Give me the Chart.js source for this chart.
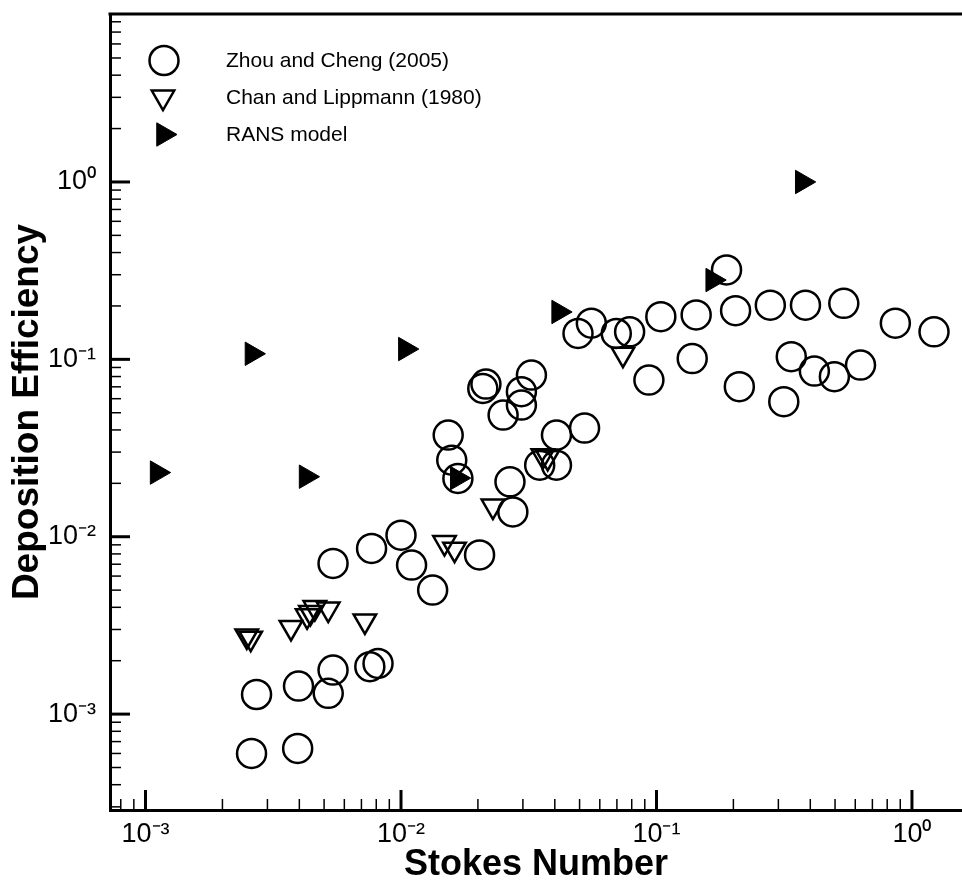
<!DOCTYPE html>
<html>
<head>
<meta charset="utf-8">
<title>Deposition efficiency vs Stokes number</title>
<script src="https://cdn.jsdelivr.net/npm/chart.js@4.4.1/dist/chart.umd.min.js"></script>
<style>
  html, body { margin: 0; padding: 0; background: #fff; overflow: hidden; }
  canvas { display: block; }
</style>
</head>
<body>
<canvas id="chart" width="962" height="883"></canvas>
<script>
// Zhou and Cheng (2005) measurements
const zhouStokes = [
  2.72e-3, 2.60e-3, 3.97e-3, 3.94e-3, 5.42e-3, 5.19e-3, 7.55e-3, 8.13e-3,
  5.42e-3, 7.67e-3, 1.00e-2, 1.10e-2, 1.33e-2, 2.03e-2,
  1.53e-2, 1.58e-2, 1.67e-2, 2.09e-2, 2.15e-2, 3.24e-2, 2.96e-2, 2.96e-2,
  2.51e-2, 2.67e-2, 2.74e-2, 4.06e-2, 3.49e-2, 4.06e-2, 5.23e-2,
  4.93e-2, 5.56e-2, 6.96e-2, 7.85e-2, 0.104, 0.143, 0.138, 9.34e-2,
  0.188, 0.204, 0.279, 0.383, 0.541, 0.861, 1.22,
  0.337, 0.415, 0.497, 0.629, 0.211, 0.315
];
const zhouEff = [
  1.29e-3, 6.0e-4, 1.44e-3, 6.4e-4, 1.77e-3, 1.31e-3, 1.85e-3, 1.93e-3,
  7.07e-3, 8.59e-3, 1.02e-2, 6.92e-3, 5.0e-3, 7.9e-3,
  0.0374, 0.0270, 0.0213, 0.0686, 0.0726, 0.0815, 0.0657, 0.0552,
  0.0485, 0.0204, 0.0138, 0.0374, 0.0253, 0.0253, 0.0410,
  0.140, 0.160, 0.140, 0.143, 0.174, 0.178, 0.101, 0.0764,
  0.319, 0.188, 0.202, 0.202, 0.207, 0.160, 0.143,
  0.1035, 0.0859, 0.0798, 0.0929, 0.0701, 0.0577
];

// Chan and Lippmann (1980)
const chanStokes = [2.49e-3, 2.58e-3, 3.71e-3, 4.29e-3, 4.42e-3, 4.60e-3, 5.19e-3,
  7.22e-3, 1.48e-2, 1.62e-2, 2.29e-2, 3.59e-2, 3.75e-2, 7.39e-2];
const chanEff = [2.76e-3, 2.68e-3, 3.08e-3, 3.58e-3, 3.74e-3, 3.99e-3, 3.91e-3,
  3.35e-3, 9.27e-3, 8.51e-3, 0.0149, 0.0286, 0.0280, 0.107];

// RANS model predictions
const ransStokes = [1.11e-3, 2.61e-3, 4.25e-3, 1.04e-2, 1.66e-2, 4.14e-2, 0.166, 0.372];
const ransEff = [0.0230, 0.1075, 0.0218, 0.1143, 0.0214, 0.185, 0.280, 1.0];

// labelled decades on both axes
const xTicks = [1e-3, 1e-2, 1e-1, 1];
const yTicks = [1e-3, 1e-2, 1e-1, 1];

const FONT = '"Liberation Sans", Arial, Helvetica, sans-serif';
const SUP = { '-': '\u207B', '0': '\u2070', '1': '\u00B9', '2': '\u00B2', '3': '\u00B3',
  '4': '\u2074', '5': '\u2075', '6': '\u2076', '7': '\u2077', '8': '\u2078', '9': '\u2079' };

function powerLabel(v) {
  const e = Math.round(Math.log10(v));
  return '10' + String(e).split('').map(c => SUP[c]).join('');
}

function toPoints(xs, ys) {
  return xs.map((x, i) => ({ x: x, y: ys[i] }));
}

// keep the plot box fixed: no extra room reserved for edge labels
function fixBox(s, size) {
  if (s.isHorizontal()) s.height = size; else s.width = size;
  s.paddingTop = 0;
  s.paddingBottom = 0;
  s.paddingLeft = 0;
  s.paddingRight = 0;
}

// inward major/minor ticks and the top frame line
const logTicks = {
  id: 'logTicks',
  afterDatasetsDraw(chart) {
    const { ctx, chartArea: a, scales } = chart;
    ctx.save();
    ctx.strokeStyle = '#000';
    ctx.lineCap = 'butt';

    const marks = (scale, draw) => {
      const lo = Math.floor(Math.log10(scale.min));
      const hi = Math.ceil(Math.log10(scale.max));
      for (let n = lo; n <= hi; n++) {
        for (let k = 1; k <= 9; k++) {
          const v = k * Math.pow(10, n);
          if (v < scale.min || v > scale.max) continue;
          draw(scale.getPixelForValue(v), k === 1);
        }
      }
    };

    marks(scales.x, (px, major) => {
      ctx.lineWidth = major ? 3 : 1.5;
      ctx.beginPath();
      ctx.moveTo(px, a.bottom);
      ctx.lineTo(px, a.bottom - (major ? 20 : 11));
      ctx.stroke();
    });
    marks(scales.y, (py, major) => {
      ctx.lineWidth = major ? 3 : 1.5;
      ctx.beginPath();
      ctx.moveTo(a.left, py);
      ctx.lineTo(a.left + (major ? 20 : 11), py);
      ctx.stroke();
    });

    ctx.lineWidth = 3;
    ctx.beginPath();
    ctx.moveTo(a.left - 1.5, a.top);
    ctx.lineTo(a.right, a.top);
    ctx.stroke();
    ctx.restore();
  }
};

// legend box in the upper-left corner of the plot
const cornerLegend = {
  id: 'cornerLegend',
  afterDraw(chart) {
    const ctx = chart.ctx;
    ctx.save();
    ctx.strokeStyle = '#000';
    ctx.fillStyle = '#000';

    // circle
    ctx.lineWidth = 2.5;
    ctx.beginPath();
    ctx.arc(164, 60.5, 14.5, 0, Math.PI * 2);
    ctx.stroke();

    // open down triangle
    const r = 13;
    ctx.beginPath();
    for (let i = 0; i < 3; i++) {
      const ang = Math.PI + i * 2 * Math.PI / 3;
      const px = 163 + Math.sin(ang) * r, py = 97 - Math.cos(ang) * r;
      if (i === 0) ctx.moveTo(px, py); else ctx.lineTo(px, py);
    }
    ctx.closePath();
    ctx.stroke();

    // filled right triangle
    const r2 = 13.5;
    ctx.lineWidth = 1;
    ctx.beginPath();
    for (let i = 0; i < 3; i++) {
      const ang = Math.PI / 2 + i * 2 * Math.PI / 3;
      const px = 163.5 + Math.sin(ang) * r2, py = 134.5 - Math.cos(ang) * r2;
      if (i === 0) ctx.moveTo(px, py); else ctx.lineTo(px, py);
    }
    ctx.closePath();
    ctx.fill();
    ctx.stroke();

    ctx.font = '21px ' + FONT;
    ctx.textAlign = 'left';
    ctx.textBaseline = 'middle';
    chart.data.datasets.forEach((ds, i) => {
      ctx.fillText(ds.label, 226, [61, 98, 135][i]);
    });
    ctx.restore();
  }
};

new Chart(document.getElementById('chart'), {
  type: 'scatter',
  data: {
    datasets: [
      {
        label: 'Zhou and Cheng (2005)',
        data: toPoints(zhouStokes, zhouEff),
        pointStyle: 'circle',
        pointRadius: 14.5,
        pointBorderWidth: 2.5,
        pointBorderColor: '#000',
        pointBackgroundColor: 'rgba(0,0,0,0)',
        order: 2
      },
      {
        label: 'Chan and Lippmann (1980)',
        data: toPoints(chanStokes, chanEff),
        pointStyle: 'triangle',
        pointRotation: 180,
        pointRadius: 13,
        pointBorderWidth: 2.5,
        pointBorderColor: '#000',
        pointBackgroundColor: 'rgba(0,0,0,0)',
        order: 1
      },
      {
        label: 'RANS model',
        data: toPoints(ransStokes, ransEff),
        pointStyle: 'triangle',
        pointRotation: 90,
        pointRadius: 13.5,
        pointBorderWidth: 1,
        pointBorderColor: '#000',
        pointBackgroundColor: '#000',
        order: 0
      }
    ]
  },
  options: {
    responsive: false,
    devicePixelRatio: 1,
    animation: false,
    events: [],
    layout: { autoPadding: false, padding: { top: 14, right: 0, bottom: 0, left: 0 } },
    scales: {
      x: {
        type: 'logarithmic',
        position: 'bottom',
        min: 7.26e-4,
        max: 1.57,
        grid: { display: false, drawTicks: false },
        border: { display: true, color: '#000', width: 3 },
        afterBuildTicks: s => { s.ticks = xTicks.map(v => ({ value: v })); },
        afterFit: s => fixBox(s, 73),
        ticks: {
          callback: v => powerLabel(v),
          color: '#000',
          font: { family: FONT, size: 27 },
          padding: 8,
          maxRotation: 0,
          autoSkip: false
        },
        title: {
          display: true,
          text: 'Stokes Number',
          color: '#000',
          font: { family: FONT, size: 36, weight: 'bold' },
          padding: { top: 0, bottom: -4 }
        }
      },
      y: {
        type: 'logarithmic',
        position: 'left',
        min: 2.88e-4,
        max: 8.85,
        grid: { display: false, drawTicks: false },
        border: { display: true, color: '#000', width: 3 },
        afterBuildTicks: s => { s.ticks = yTicks.map(v => ({ value: v })); },
        afterFit: s => fixBox(s, 110),
        ticks: {
          callback: v => powerLabel(v),
          color: '#000',
          font: { family: FONT, size: 27 },
          padding: 14,
          autoSkip: false
        },
        title: {
          display: true,
          text: 'Deposition Efficiency',
          color: '#000',
          font: { family: FONT, size: 37, weight: 'bold' },
          padding: { top: 6, bottom: 0 }
        }
      }
    },
    plugins: {
      legend: { display: false },
      tooltip: { enabled: false }
    }
  },
  plugins: [logTicks, cornerLegend]
});
</script>
</body>
</html>
